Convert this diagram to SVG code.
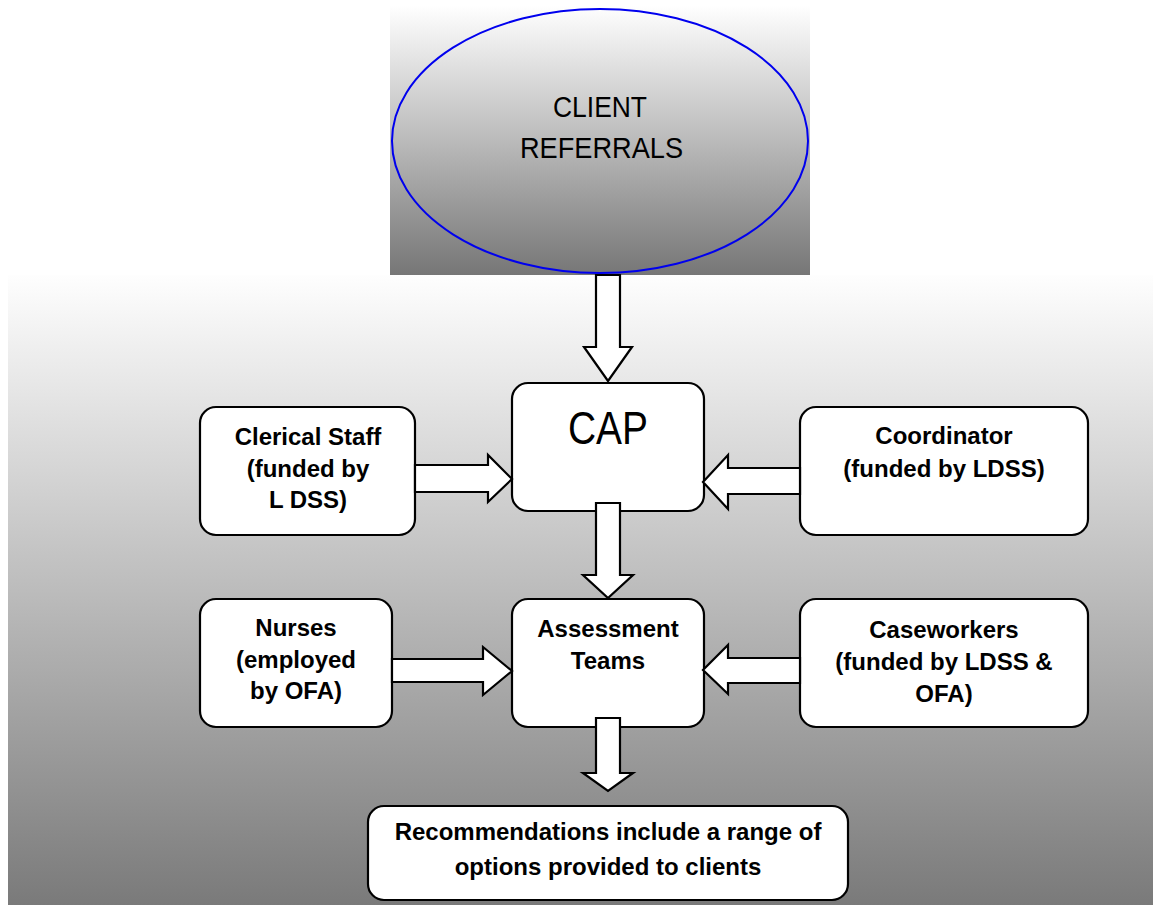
<svg xmlns="http://www.w3.org/2000/svg" width="1153" height="905" viewBox="0 0 1153 905">
<defs>
<linearGradient id="gTop" x1="0" y1="0" x2="0" y2="1">
<stop offset="0" stop-color="#ffffff"/>
<stop offset="1" stop-color="#767676"/>
</linearGradient>
<linearGradient id="gBg" x1="0" y1="0" x2="0" y2="1">
<stop offset="0" stop-color="#fefefe"/>
<stop offset="1" stop-color="#7a7a7a"/>
</linearGradient>
</defs>
<style>
.box{fill:#fff;stroke:#000;stroke-width:2.2}
.arr{fill:#fff;stroke:#000;stroke-width:2.2;stroke-linejoin:miter}
.b{font-family:"Liberation Sans",Arial,sans-serif;font-weight:bold;font-size:24px;fill:#000;text-anchor:middle}
.n{font-family:"Liberation Sans Narrow","Liberation Sans",Arial,sans-serif;fill:#000;text-anchor:middle}
</style>
<rect x="8" y="275" width="1145" height="630" fill="url(#gBg)"/>
<rect x="390" y="5" width="420" height="270" fill="url(#gTop)"/>
<g id="client-referrals">
<ellipse cx="600" cy="141" rx="208" ry="132" fill="none" stroke="#0000ee" stroke-width="2"/>
<text class="n" x="600" y="117" font-size="30" textLength="94" lengthAdjust="spacingAndGlyphs">CLIENT</text>
<text class="n" x="601.5" y="158" font-size="30" textLength="163" lengthAdjust="spacingAndGlyphs">REFERRALS</text>
</g>
<g id="cap">
<rect class="box" x="512" y="383" width="192" height="128" rx="16"/>
<text class="n" x="608" y="444" font-size="46" textLength="80" lengthAdjust="spacingAndGlyphs">CAP</text>
</g>
<g id="clerical">
<rect class="box" x="200" y="407" width="215" height="128" rx="16"/>
<text class="b" x="308" y="445">Clerical Staff</text>
<text class="b" x="308" y="477">(funded by</text>
<text class="b" x="308" y="508">L DSS)</text>
</g>
<g id="coordinator">
<rect class="box" x="800" y="407" width="288" height="128" rx="16"/>
<text class="b" x="944" y="444">Coordinator</text>
<text class="b" x="944" y="477">(funded by LDSS)</text>
</g>
<g id="nurses">
<rect class="box" x="200" y="599" width="192" height="128" rx="16"/>
<text class="b" x="296" y="636">Nurses</text>
<text class="b" x="296" y="668">(employed</text>
<text class="b" x="296" y="699">by OFA)</text>
</g>
<g id="assessment">
<rect class="box" x="512" y="599" width="192" height="128" rx="16"/>
<text class="b" x="608" y="637">Assessment</text>
<text class="b" x="608" y="669">Teams</text>
</g>
<g id="caseworkers">
<rect class="box" x="800" y="599" width="288" height="128" rx="16"/>
<text class="b" x="944" y="638">Caseworkers</text>
<text class="b" x="944" y="670">(funded by LDSS &amp;</text>
<text class="b" x="944" y="702">OFA)</text>
</g>
<g id="recommendations">
<rect class="box" x="368" y="806" width="480" height="94" rx="16"/>
<text class="b" x="608" y="840">Recommendations include a range of</text>
<text class="b" x="608" y="875">options provided to clients</text>
</g>
<g id="connectors">
<polygon class="arr" points="596,275 620,275 620,347 632,347 608,381 584,347 596,347"/>
<polygon class="arr" points="596,503 620,503 620,575 633,575 608,598 583,575 596,575"/>
<polygon class="arr" points="596,718 620,718 620,773 633,773 608,791 583,773 596,773"/>
<polygon class="arr" points="415,465 488,465 488,455 512,479 488,502 488,492 415,492"/>
<polygon class="arr" points="392,659 483,659 483,647 512,671 483,695 483,682 392,682"/>
<polygon class="arr" points="800,468 728,468 728,455 703,482 728,509 728,494 800,494"/>
<polygon class="arr" points="800,658 728,658 728,645 703,670 728,694 728,683 800,683"/>
</g>
</svg>
